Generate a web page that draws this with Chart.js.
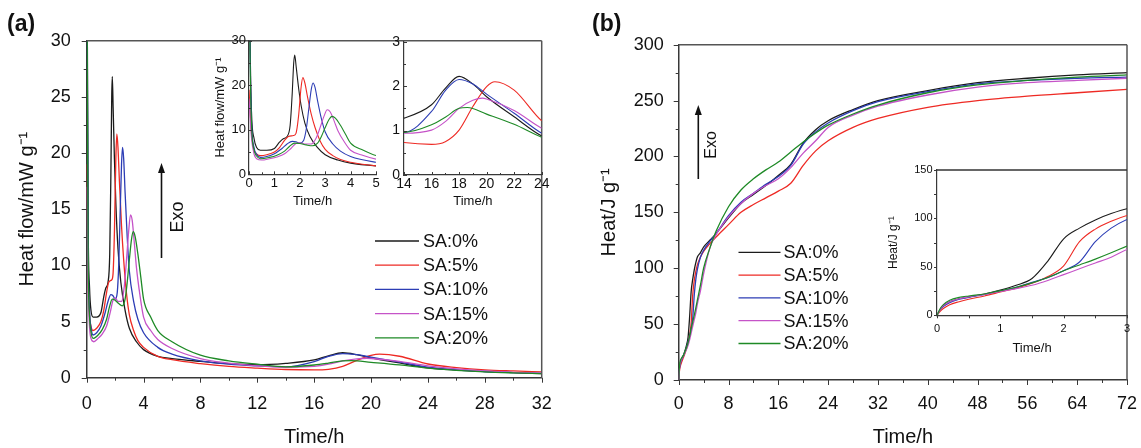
<!DOCTYPE html>
<html>
<head>
<meta charset="utf-8">
<script src="https://cdn.jsdelivr.net/npm/chart.js@4.4.1/dist/chart.umd.min.js"></script>
<style>
  html, body { margin: 0; padding: 0; background: #fff; }
  #wrap { position: relative; width: 1141px; height: 448px; overflow: hidden; }
  #wrap canvas { position: absolute; }
</style>
</head>
<body>
<div id="wrap">
  <canvas id="flowMain" width="560" height="448" style="left:0;top:0"></canvas>
  <canvas id="heatMain" width="581" height="448" style="left:560px;top:0"></canvas>
  <canvas id="flowEarly" width="200" height="190" style="left:195px;top:30px"></canvas>
  <canvas id="flowLate" width="200" height="190" style="left:360px;top:30px"></canvas>
  <canvas id="heatEarly" width="261" height="200" style="left:880px;top:155px"></canvas>
</div>
<script>
const FONT = "'Liberation Sans', Arial, Helvetica, sans-serif";
const INK = '#111';
const AXIS = '#383838';

const seriesLabels = ['SA:0%', 'SA:5%', 'SA:10%', 'SA:15%', 'SA:20%'];
const seriesColors = ['#1b1b1b', '#ee2a24', '#2c3db5', '#c553c8', '#1e8a26'];

// ── Heat flow (mW/g) ── each run has its own time base (h), denser around the peaks
const flowTime0 = [0, 0.04, 0.1, 0.2, 0.3, 0.45, 0.7, 1.0, 1.2, 1.35, 1.5, 1.62, 1.7, 1.76, 1.8, 1.86, 1.95, 2.05, 2.2, 2.4,
                   2.7, 3.0, 3.5, 4, 5, 6, 8, 10, 12, 14, 16, 17, 18, 19, 20, 22, 24, 26, 28, 30, 32];
const flow0     = [60, 32, 14, 8, 6, 5.4, 5.4, 5.8, 7.2, 8.0, 8.5, 11, 18, 25, 26.8, 24, 19.5, 15.5, 11.5, 8.5,
                   6, 4.4, 3.2, 2.5, 1.9, 1.7, 1.45, 1.25, 1.15, 1.28, 1.58, 1.95, 2.22, 2.05, 1.76, 1.31, 0.88, 0.68, 0.55, 0.45, 0.36];

const flowTime5 = [0, 0.1, 0.2, 0.3, 0.45, 0.7, 1.0, 1.2, 1.4, 1.55, 1.75, 1.85, 1.95, 2.05, 2.12, 2.2, 2.3, 2.45, 2.6, 2.8,
                   3.0, 3.3, 3.6, 4, 5, 6, 8, 10, 12, 14, 16, 17, 18, 19, 20, 20.6, 22, 24, 26, 28, 30, 32];
const flow5     = [19, 9, 5.5, 4.6, 4.2, 4.4, 5.0, 6.0, 7.6, 8.5, 8.7, 9.2, 13, 19.5, 21.7, 20.5, 17.5, 13.5, 10.5, 7.5,
                   5.6, 4.2, 3.3, 2.7, 1.9, 1.6, 1.25, 1.0, 0.85, 0.73, 0.69, 0.75, 1.01, 1.54, 1.99, 2.1, 1.91, 1.22, 0.9, 0.7, 0.6, 0.52];

const flowTime10 = [0, 0.04, 0.1, 0.2, 0.3, 0.45, 0.7, 1.0, 1.3, 1.5, 1.7, 1.85, 2.0, 2.15, 2.25, 2.35, 2.45, 2.52, 2.6, 2.7,
                    2.85, 3.0, 3.3, 3.6, 4, 5, 6, 8, 10, 12, 14, 16, 17, 18, 19, 20, 22, 24, 26, 28, 30, 32];
const flow10     = [60, 30, 12, 6, 4.5, 3.8, 4.0, 4.6, 5.8, 6.8, 7.4, 7.3, 7.0, 7.6, 10, 14.5, 19, 20.5, 19.5, 16.5,
                    12.5, 9.5, 6.8, 5.2, 4.0, 2.7, 2.1, 1.5, 1.2, 1.05, 0.96, 1.43, 1.9, 2.15, 2.05, 1.82, 1.39, 0.94, 0.7, 0.55, 0.45, 0.38];

const flowTime15 = [0, 0.1, 0.2, 0.3, 0.5, 0.8, 1.1, 1.4, 1.65, 1.85, 2.0, 2.2, 2.45, 2.65, 2.8, 2.95, 3.08, 3.2, 3.35, 3.5,
                    3.75, 4, 4.5, 5, 6, 8, 10, 12, 14, 16, 17, 18, 19, 19.7, 20, 22, 24, 26, 28, 30, 32];
const flow15     = [17, 8, 4.5, 3.5, 3.2, 3.5, 3.9, 4.6, 5.8, 6.9, 7.1, 6.8, 6.8, 8.2, 10.5, 13, 14.5, 14, 12, 9.8,
                    7.3, 5.4, 4.2, 3.4, 2.6, 1.7, 1.3, 1.05, 0.94, 1.01, 1.2, 1.5, 1.68, 1.73, 1.71, 1.45, 1.05, 0.78, 0.6, 0.48, 0.4];

const flowTime20 = [0, 0.04, 0.1, 0.2, 0.3, 0.45, 0.8, 1.1, 1.4, 1.6, 1.8, 2.0, 2.25, 2.5, 2.7, 2.85, 3.0, 3.15, 3.27, 3.4,
                    3.6, 3.8, 4, 4.5, 5, 6, 8, 10, 12, 14, 16, 17, 18, 18.6, 20, 22, 24, 26, 28, 30, 32];
const flow20     = [60, 28, 11, 5.5, 4.1, 3.5, 3.8, 4.3, 5.2, 6.3, 7.0, 6.9, 6.6, 6.4, 7.0, 8.5, 10.5, 12.3, 13, 12.6,
                    11, 9, 7.0, 5.4, 4.2, 3.2, 2.0, 1.5, 1.2, 0.96, 1.13, 1.3, 1.5, 1.52, 1.37, 1.14, 0.85, 0.66, 0.52, 0.43, 0.36];

const flowTimes = [flowTime0, flowTime5, flowTime10, flowTime15, flowTime20];
const flows = [flow0, flow5, flow10, flow15, flow20];

// ── Cumulative heat (J/g) ── one shared time base (h)
const heatTime = [0, 0.05, 0.1, 0.2, 0.35, 0.5, 0.75, 1, 1.25, 1.5, 1.75, 2, 2.25, 2.5, 2.75, 3, 3.5, 4, 5, 6,
                  8, 10, 12, 14, 16, 18, 20, 22, 24, 28, 32, 40, 48, 56, 64, 72];
const heat0  = [0, 6, 10, 14, 17, 19, 22, 26, 31, 38, 56, 79, 90, 98.5, 105, 110, 114, 119, 125, 131,
                145, 158, 166, 174, 183, 193, 212, 224, 232, 242, 250, 259, 266, 270, 273, 275];
const heat5  = [0, 4, 7, 11, 14, 16.5, 20, 24, 28, 33, 40, 51, 76, 89, 97, 103, 110, 115, 122, 128,
                139, 150, 157, 163, 169, 176, 192, 205, 214, 226, 234, 244, 250, 254, 257, 260];
const heat10 = [0, 6, 9, 13, 16.5, 18.5, 21.5, 25, 29, 34, 39, 46, 55, 76, 90, 99, 110, 116, 124, 131,
                147, 159, 167, 175, 182, 192, 211, 222, 230, 241, 249, 258, 265, 268, 270, 271];
const heat15 = [0, 6, 10, 14, 17, 19, 21.5, 24.5, 27.5, 31, 36, 42, 48, 54, 60, 68, 80, 95, 118, 130,
                146, 158, 167, 174, 180, 190, 203, 214, 226, 237, 245, 255, 262, 266, 268, 270];
const heat20 = [0, 7, 11, 15.5, 18.5, 20, 22, 25.5, 29, 33.5, 39, 46, 52, 58, 64.5, 71.5, 85, 100, 118, 133,
                155, 170, 180, 188, 195, 204, 213, 221, 228, 238, 246, 257, 264, 268, 271, 273];

const heats = [heat0, heat5, heat10, heat15, heat20];

function toPoints(xs, ys) {
  return xs.map((x, i) => ({ x, y: ys[i] }));
}

// one line per run; the last run is drawn on top
function buildDatasets(timeOf, valuesList, lw) {
  return valuesList.map((vals, i) => ({
    label: seriesLabels[i],
    data: toPoints(timeOf(i), vals),
    borderColor: seriesColors[i],
    borderWidth: lw,
    pointRadius: 0,
    fill: false,
    cubicInterpolationMode: 'monotone',
    order: valuesList.length - i
  }));
}

// ── Extra drawing: tick marks (major + minor), box edges, legend, Exo arrow, panel tag ──
const decor = {
  id: 'decor',
  afterDraw(chart, _args, o) {
    const { ctx, chartArea: a, scales } = chart;
    ctx.save();

    ctx.strokeStyle = AXIS;
    ctx.lineWidth = 1;
    for (const id of ['x', 'y']) {
      const m = o.ticks && o.ticks[id];
      if (!m) continue;
      const s = scales[id];
      const n = Math.round((s.max - s.min) / m.minor);
      const sign = m.inward ? -1 : 1;
      for (let i = 0; i <= n; i++) {
        const v = s.min + i * m.minor;
        const r = v / m.major;
        const len = Math.abs(r - Math.round(r)) < 1e-6 ? m.len : m.minorLen;
        const p = Math.round(s.getPixelForValue(v)) + 0.5;
        ctx.beginPath();
        if (id === 'x') { ctx.moveTo(p, a.bottom); ctx.lineTo(p, a.bottom + sign * len); }
        else { ctx.moveTo(a.left, p); ctx.lineTo(a.left - sign * len, p); }
        ctx.stroke();
      }
    }

    if (o.edges) {
      const e = o.edges;
      ctx.strokeStyle = e.color;
      ctx.lineWidth = e.width;
      ctx.beginPath();
      if (e.top) { ctx.moveTo(a.left, a.top); ctx.lineTo(a.right, a.top); }
      if (e.right) { ctx.moveTo(a.right, a.top); ctx.lineTo(a.right, a.bottom); }
      ctx.stroke();
    }

    if (o.legend) {
      const L = o.legend;
      ctx.font = `${L.size}px ${FONT}`;
      ctx.textAlign = 'left';
      ctx.textBaseline = 'middle';
      chart.data.datasets.forEach((d, i) => {
        const y = L.y + i * L.step;
        ctx.strokeStyle = d.borderColor;
        ctx.lineWidth = 1.3;
        ctx.beginPath();
        ctx.moveTo(L.x, y);
        ctx.lineTo(L.x + L.len, y);
        ctx.stroke();
        ctx.fillStyle = INK;
        ctx.fillText(d.label, L.x + L.len + L.gap, y + 1);
      });
    }

    if (o.exo) {
      const E = o.exo;
      ctx.strokeStyle = INK;
      ctx.fillStyle = INK;
      ctx.lineWidth = 1.6;
      ctx.beginPath();
      ctx.moveTo(E.x, E.bottom);
      ctx.lineTo(E.x, E.top + 8);
      ctx.stroke();
      ctx.beginPath();
      ctx.moveTo(E.x, E.top);
      ctx.lineTo(E.x - 3.5, E.top + 10);
      ctx.lineTo(E.x + 3.5, E.top + 10);
      ctx.closePath();
      ctx.fill();
      ctx.save();
      ctx.translate(E.tx, E.ty);
      ctx.rotate(-Math.PI / 2);
      ctx.font = `${E.size}px ${FONT}`;
      ctx.textAlign = 'center';
      ctx.textBaseline = 'middle';
      ctx.fillText('Exo', 0, 0);
      ctx.restore();
    }

    if (o.tag) {
      ctx.fillStyle = INK;
      ctx.font = `bold ${o.tag.size}px ${FONT}`;
      ctx.textAlign = 'left';
      ctx.textBaseline = 'alphabetic';
      ctx.fillText(o.tag.text, o.tag.x, o.tag.y);
    }

    ctx.restore();
  }
};

// Linear axis with a fixed box size so the plot area lands where it should.
// The label gap goes through an invisible tick length: ticks.padding would also
// widen the side padding Chart.js reserves for the end labels and squeeze the plot.
function axis(o) {
  return {
    type: 'linear',
    min: o.min,
    max: o.max,
    afterFit: s => { if (s.isHorizontal()) s.height = o.size; else s.width = o.size; },
    ticks: {
      stepSize: o.step,
      autoSkip: false,
      maxRotation: 0,
      padding: 0,
      color: INK,
      font: { family: FONT, size: o.font },
      callback: v => String(v)
    },
    grid: {
      display: true,
      drawOnChartArea: false,
      drawTicks: true,
      tickLength: o.pad,
      tickColor: 'rgba(0,0,0,0)'
    },
    border: { display: true, color: AXIS, width: o.lw || 1.5 },
    title: o.title ? {
      display: true,
      text: o.title,
      color: INK,
      font: { family: FONT, size: o.titleSize, lineHeight: 1 },
      padding: o.titlePad
    } : { display: false }
  };
}

function makeChart(id, cfg) {
  return new Chart(document.getElementById(id), {
    type: 'line',
    data: { datasets: cfg.datasets },
    options: {
      responsive: false,
      animation: false,
      events: [],
      layout: { padding: cfg.pad },
      scales: { x: axis(cfg.x), y: axis(cfg.y) },
      plugins: { legend: { display: false }, tooltip: { enabled: false }, decor: cfg.decor }
    },
    plugins: [decor]
  });
}

// ── (a) heat flow, 0–32 h ──
makeChart('flowMain', {
  datasets: buildDatasets(i => flowTimes[i], flows, 1.3),
  pad: { top: 40.7, right: 18.3, left: 0, bottom: 0 },
  x: { min: 0, max: 32, step: 4, size: 70.3, pad: 16, font: 18, title: 'Time/h', titleSize: 20, titlePad: 1 },
  y: { min: 0, max: 30, step: 5, size: 86.7, pad: 16, font: 18, title: 'Heat flow/mW g\u207B\u00B9', titleSize: 20, titlePad: 17 },
  decor: {
    ticks: { x: { major: 4, minor: 2, len: 5, minorLen: 3 }, y: { major: 5, minor: 2.5, len: 5, minorLen: 3 } },
    edges: { top: true, right: true, color: '#555', width: 1.5 },
    legend: { x: 375, y: 241, step: 24.2, len: 44, gap: 4, size: 18 },
    exo: { x: 161.5, top: 163, bottom: 258, tx: 178, ty: 217, size: 18 },
    tag: { text: '(a)', x: 7, y: 31, size: 23 }
  }
});

// inset: first 5 h
makeChart('flowEarly', {
  datasets: buildDatasets(i => flowTimes[i], flows, 1.1),
  pad: { top: 10.7, right: 19, left: 0, bottom: 0 },
  x: { min: 0, max: 5, step: 1, size: 45.7, pad: 1, font: 13, lw: 1.2, title: 'Time/h', titleSize: 13, titlePad: 12 },
  y: { min: 0, max: 30, step: 10, size: 54, pad: 3, font: 13, lw: 1.2, title: 'Heat flow/mW g\u207B\u00B9', titleSize: 13, titlePad: 18.5 },
  decor: {
    ticks: { x: { major: 1, minor: 0.5, len: 3, minorLen: 2, inward: true }, y: { major: 10, minor: 5, len: 3, minorLen: 2, inward: true } }
  }
});

// inset: 14–24 h
makeChart('flowLate', {
  datasets: buildDatasets(i => flowTimes[i], flows, 1.1),
  pad: { top: 11.7, right: 18.3, left: 0, bottom: 0 },
  x: { min: 14, max: 24, step: 2, size: 45, pad: 1, font: 14, lw: 1.2, title: 'Time/h', titleSize: 13, titlePad: 12 },
  y: { min: 0, max: 3, step: 1, size: 44, pad: 4, font: 14, lw: 1.2 },
  decor: {
    ticks: { x: { major: 2, minor: 1, len: 3, minorLen: 2, inward: true }, y: { major: 1, minor: 0.5, len: 3, minorLen: 2, inward: true } }
  }
});

// ── (b) cumulative heat, 0–72 h ──
makeChart('heatMain', {
  datasets: buildDatasets(() => heatTime, heats, 1.3),
  pad: { top: 44.7, right: 14, left: 0, bottom: 0 },
  x: { min: 0, max: 72, step: 8, size: 68, pad: 13, font: 18, title: 'Time/h', titleSize: 20, titlePad: 1 },
  y: { min: 0, max: 300, step: 50, size: 118.7, pad: 15, font: 18, title: 'Heat/J g\u207B\u00B9', titleSize: 20, titlePad: 39 },
  decor: {
    ticks: { x: { major: 8, minor: 4, len: 5, minorLen: 3 }, y: { major: 50, minor: 25, len: 5, minorLen: 3 } },
    edges: { top: true, right: true, color: '#555', width: 1.5 },
    legend: { x: 178.5, y: 252.3, step: 22.8, len: 42, gap: 3, size: 18 },
    exo: { x: 138.3, top: 105, bottom: 179, tx: 151.7, ty: 145, size: 16 },
    tag: { text: '(b)', x: 32, y: 31, size: 23 }
  }
});

// inset: first 3 h
makeChart('heatEarly', {
  datasets: buildDatasets(() => heatTime, heats, 1.1),
  pad: { top: 15, right: 14, left: 0, bottom: 0 },
  x: { min: 0, max: 3, step: 1, size: 39.7, pad: 7, font: 11, lw: 1.2, title: 'Time/h', titleSize: 13, titlePad: 0.5 },
  y: { min: 0, max: 150, step: 50, size: 57, pad: 4.5, font: 11, lw: 1.2, title: 'Heat/J g\u207B\u00B9', titleSize: 12, titlePad: 8 },
  decor: {
    ticks: { x: { major: 1, minor: 0.5, len: 3, minorLen: 3 }, y: { major: 50, minor: 25, len: 3, minorLen: 3 } },
    edges: { top: true, right: false, color: '#333', width: 1.5 }
  }
});
</script>
</body>
</html>
